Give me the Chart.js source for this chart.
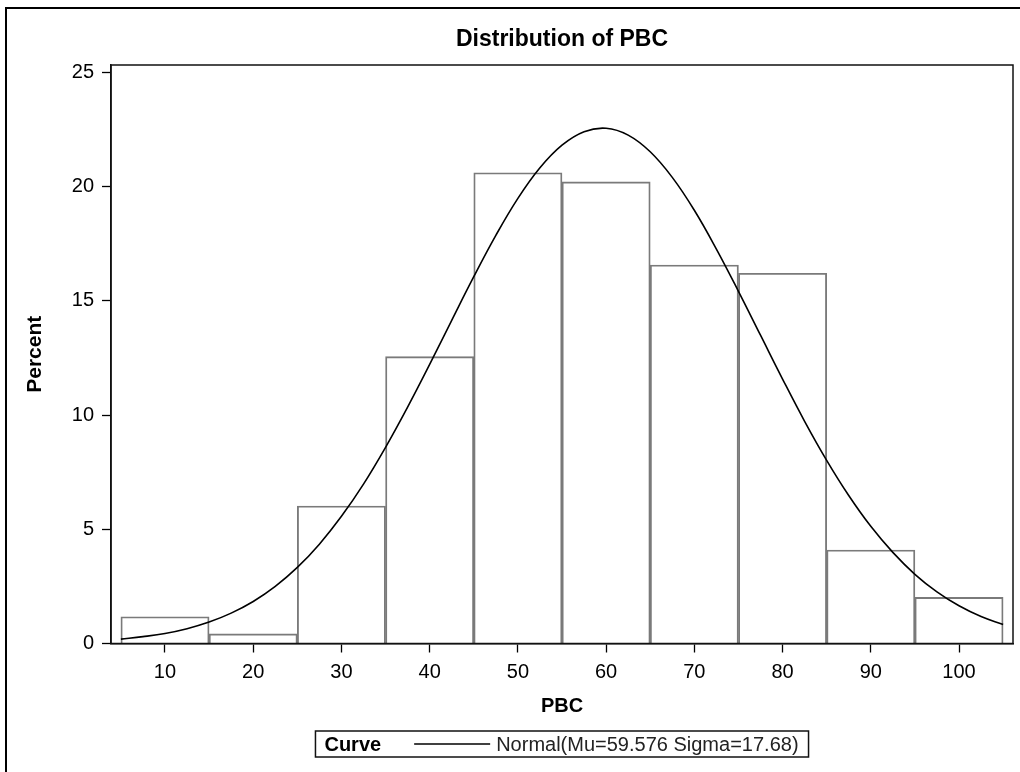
<!DOCTYPE html>
<html>
<head>
<meta charset="utf-8">
<title>Distribution of PBC</title>
<script src="https://cdn.jsdelivr.net/npm/chart.js@4.4.1/dist/chart.umd.min.js"></script>
<style>
  html, body { margin: 0; padding: 0; background: #fff; }
  #wrap { position: relative; width: 1020px; height: 772px; }
</style>
</head>
<body>
<div id="wrap"><canvas id="c" width="1020" height="772"></canvas></div>
<script>
'use strict';
// Histogram of PBC (percent per 10-unit bin) with fitted normal curve.

const binMids = [10, 20, 30, 40, 50, 60, 70, 80, 90, 100];
const binPct = [1.17, 0.42, 6.02, 12.56, 20.61, 20.21, 16.57, 16.21, 4.09, 2.02];

// normal curve
const curveX = [5, 7.5, 10, 12.5, 15, 17.5, 20, 22.5, 25, 27.5, 30, 32.5, 35, 37.5, 40, 42.5, 45, 47.5, 50, 52.5,
  55, 57.5, 60, 62.5, 65, 67.5, 70, 72.5, 75, 77.5, 80, 82.5, 85, 87.5, 90, 92.5, 95, 97.5, 100, 102.5, 105];
const curveY = [0.19, 0.30, 0.44, 0.65, 0.94, 1.33, 1.84, 2.50, 3.33, 4.35, 5.57, 6.98, 8.59, 10.35, 12.22, 14.15, 16.06, 17.87, 19.49, 20.83,
  21.82, 22.41, 22.56, 22.26, 21.53, 20.41, 18.97, 17.27, 15.42, 13.50, 11.58, 9.73, 8.02, 6.48, 5.13, 3.99, 3.03, 2.26, 1.65, 1.18, 0.83];

const xTicks = [10, 20, 30, 40, 50, 60, 70, 80, 90, 100];
const yTicks = [0, 5, 10, 15, 20, 25];

const titleText = 'Distribution of PBC';
const legendTitle = 'Curve';
const legendLabel = 'Normal(Mu=59.576 Sigma=17.68)';

const FONT = "'Liberation Sans', Arial, sans-serif";

const frame = {
  id: 'frame',
  afterDraw(chart) {
    const { ctx, chartArea: a } = chart;
    const cx = (a.left + a.right) / 2;
    ctx.save();
    // outer image border (top + left)
    ctx.strokeStyle = '#000';
    ctx.lineWidth = 2;
    ctx.beginPath();
    ctx.moveTo(6, 772); ctx.lineTo(6, 8); ctx.lineTo(1020, 8);
    ctx.stroke();

    // plot frame
    ctx.lineWidth = 1.5;
    ctx.strokeStyle = '#111';
    ctx.strokeRect(a.left, a.top, a.right - a.left, a.bottom - a.top);

    // title
    ctx.fillStyle = '#000';
    ctx.font = 'bold 23px ' + FONT;
    ctx.textAlign = 'center';
    ctx.textBaseline = 'middle';
    ctx.fillText(titleText, cx, 40);

    // legend box
    ctx.font = 'bold 20px ' + FONT;
    const wT = ctx.measureText(legendTitle).width;
    ctx.font = '20px ' + FONT;
    const wL = ctx.measureText(legendLabel).width;
    const padL = 9, gap1 = 33, lineLen = 76, gap2 = 6, padR = 10;
    const boxW = padL + wT + gap1 + lineLen + gap2 + wL + padR;
    const bx = cx - boxW / 2, by = 731, bh = 26, my = by + bh / 2;
    ctx.lineWidth = 1.5;
    ctx.strokeStyle = '#111';
    ctx.strokeRect(bx, by, boxW, bh);
    ctx.textAlign = 'left';
    ctx.font = 'bold 20px ' + FONT;
    ctx.fillText(legendTitle, bx + padL, my + 1);
    const lx = bx + padL + wT + gap1;
    ctx.lineWidth = 1.3;
    ctx.strokeStyle = '#000';
    ctx.beginPath(); ctx.moveTo(lx, my); ctx.lineTo(lx + lineLen, my); ctx.stroke();
    ctx.font = '20px ' + FONT;
    ctx.fillStyle = '#222';
    ctx.fillText(legendLabel, lx + lineLen + gap2, my + 1);
    ctx.restore();
  }
};

const axisGrid = { display: true, drawOnChartArea: false, drawTicks: true, tickLength: 9, tickColor: '#000', tickWidth: 1.3, offset: false };
const axisBorder = { display: true, color: '#111', width: 1.5 };
const tickFont = { family: FONT, size: 20 };

new Chart(document.getElementById('c').getContext('2d'), {
  type: 'bar',
  data: {
    datasets: [
      {
        type: 'line',
        data: curveX.map((x, i) => ({ x, y: curveY[i] })),
        borderColor: '#000',
        borderWidth: 1.6,
        pointRadius: 0,
        tension: 0.4,
        fill: false,
        order: 0
      },
      {
        type: 'bar',
        data: binMids.map((x, i) => ({ x, y: binPct[i] })),
        backgroundColor: 'rgba(255,255,255,0)',
        borderColor: '#7a7a7a',
        borderWidth: 1.2,
        barPercentage: 1,
        categoryPercentage: 1,
        order: 1
      }
    ]
  },
  options: {
    responsive: false,
    animation: false,
    devicePixelRatio: 1,
    layout: { padding: { left: 0, right: 7, top: 65, bottom: 0 } },
    plugins: { legend: { display: false }, title: { display: false }, tooltip: { enabled: false } },
    scales: {
      x: {
        type: 'linear',
        min: 3.88, max: 106.12,
        offset: false,
        afterBuildTicks: (s) => { s.ticks = xTicks.map((v) => ({ value: v })); },
        afterFit: (s) => { s.height = 128.5; },
        ticks: { color: '#000', font: tickFont, padding: 8, maxRotation: 0, autoSkip: false },
        grid: axisGrid,
        border: axisBorder,
        title: { display: true, text: 'PBC', color: '#000', font: { family: FONT, size: 20, weight: 'bold' }, padding: { top: 0, bottom: 54 } }
      },
      y: {
        type: 'linear',
        min: 0, max: 25.33,
        afterBuildTicks: (s) => { s.ticks = yTicks.map((v) => ({ value: v })); },
        afterFit: (s) => { s.width = 111; },
        ticks: { color: '#000', font: tickFont, padding: 8 },
        grid: axisGrid,
        border: axisBorder,
        title: { display: true, text: 'Percent', color: '#000', font: { family: FONT, size: 21, weight: 'bold' }, padding: { top: 23, bottom: 0 } }
      }
    }
  },
  plugins: [frame]
});
</script>
</body>
</html>
